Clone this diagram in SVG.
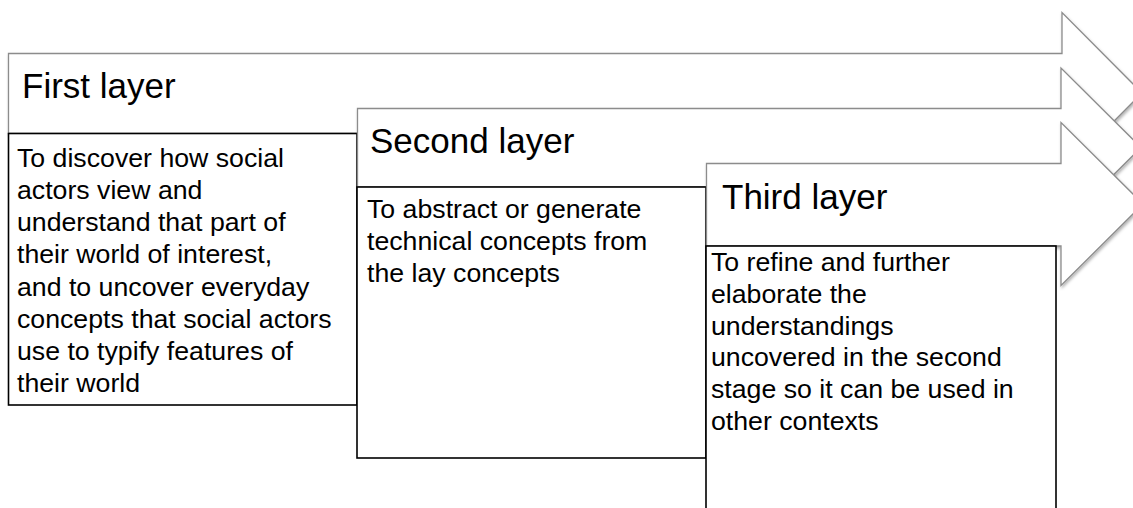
<svg xmlns="http://www.w3.org/2000/svg" width="1133" height="508" viewBox="0 0 1133 508">
<defs>
<filter id="sh" x="-5%" y="-20%" width="115%" height="150%">
<feDropShadow dx="1" dy="2" stdDeviation="1.5" flood-color="#000" flood-opacity="0.3"/>
</filter>
<style>
.arrow{fill:#fff;stroke:#8c8c8c;stroke-width:1.3;filter:url(#sh);}
.box{fill:#fff;stroke:#000;stroke-width:1.6;}
.hd{font-family:"Liberation Sans",Arial,sans-serif;font-size:35px;fill:#000;}
.tx{font-family:"Liberation Sans",Arial,sans-serif;font-size:26.7px;fill:#000;}
</style>
</defs>
<rect width="1133" height="508" fill="#fff"/>
<g id="layer1">
<path class="arrow" d="M8.5,53.5 H1062 V12.5 L1142,93 L1062,173.5 V133.5 H8.5 Z"/>
<text class="hd" x="22" y="98">First layer</text>
<rect class="box" x="8.5" y="133.5" width="348.5" height="271.5"/>
<text class="tx" x="17" y="167">To discover how social</text>
<text class="tx" x="17" y="199">actors view and</text>
<text class="tx" x="17" y="231.3">understand that part of</text>
<text class="tx" x="17" y="263.4">their world of interest,</text>
<text class="tx" x="17" y="295.6">and to uncover everyday</text>
<text class="tx" x="17" y="327.7">concepts that social actors</text>
<text class="tx" x="17" y="359.8">use to typify features of</text>
<text class="tx" x="17" y="392">their world</text>
</g>
<g id="layer2">
<path class="arrow" d="M357.5,108.5 H1061 V68 L1141,147.5 L1061,227 V187 H357.5 Z"/>
<text class="hd" x="370" y="153">Second layer</text>
<rect class="box" x="357" y="187" width="349" height="271"/>
<text class="tx" x="367" y="218.3">To abstract or generate</text>
<text class="tx" x="367" y="250.3">technical concepts from</text>
<text class="tx" x="367" y="282.3">the lay concepts</text>
</g>
<g id="layer3">
<path class="arrow" d="M706.5,163.5 H1061 V122.5 L1143,204 L1061,285.5 V246 H706.5 Z"/>
<text class="hd" x="722" y="209">Third layer</text>
<rect class="box" x="706" y="246" width="350" height="275"/>
<text class="tx" x="711" y="271">To refine and further</text>
<text class="tx" x="711" y="302.8">elaborate the</text>
<text class="tx" x="711" y="334.6">understandings</text>
<text class="tx" x="711" y="366.4">uncovered in the second</text>
<text class="tx" x="711" y="398.2">stage so it can be used in</text>
<text class="tx" x="711" y="430">other contexts</text>
</g>
<g id="connectors"/>
</svg>
